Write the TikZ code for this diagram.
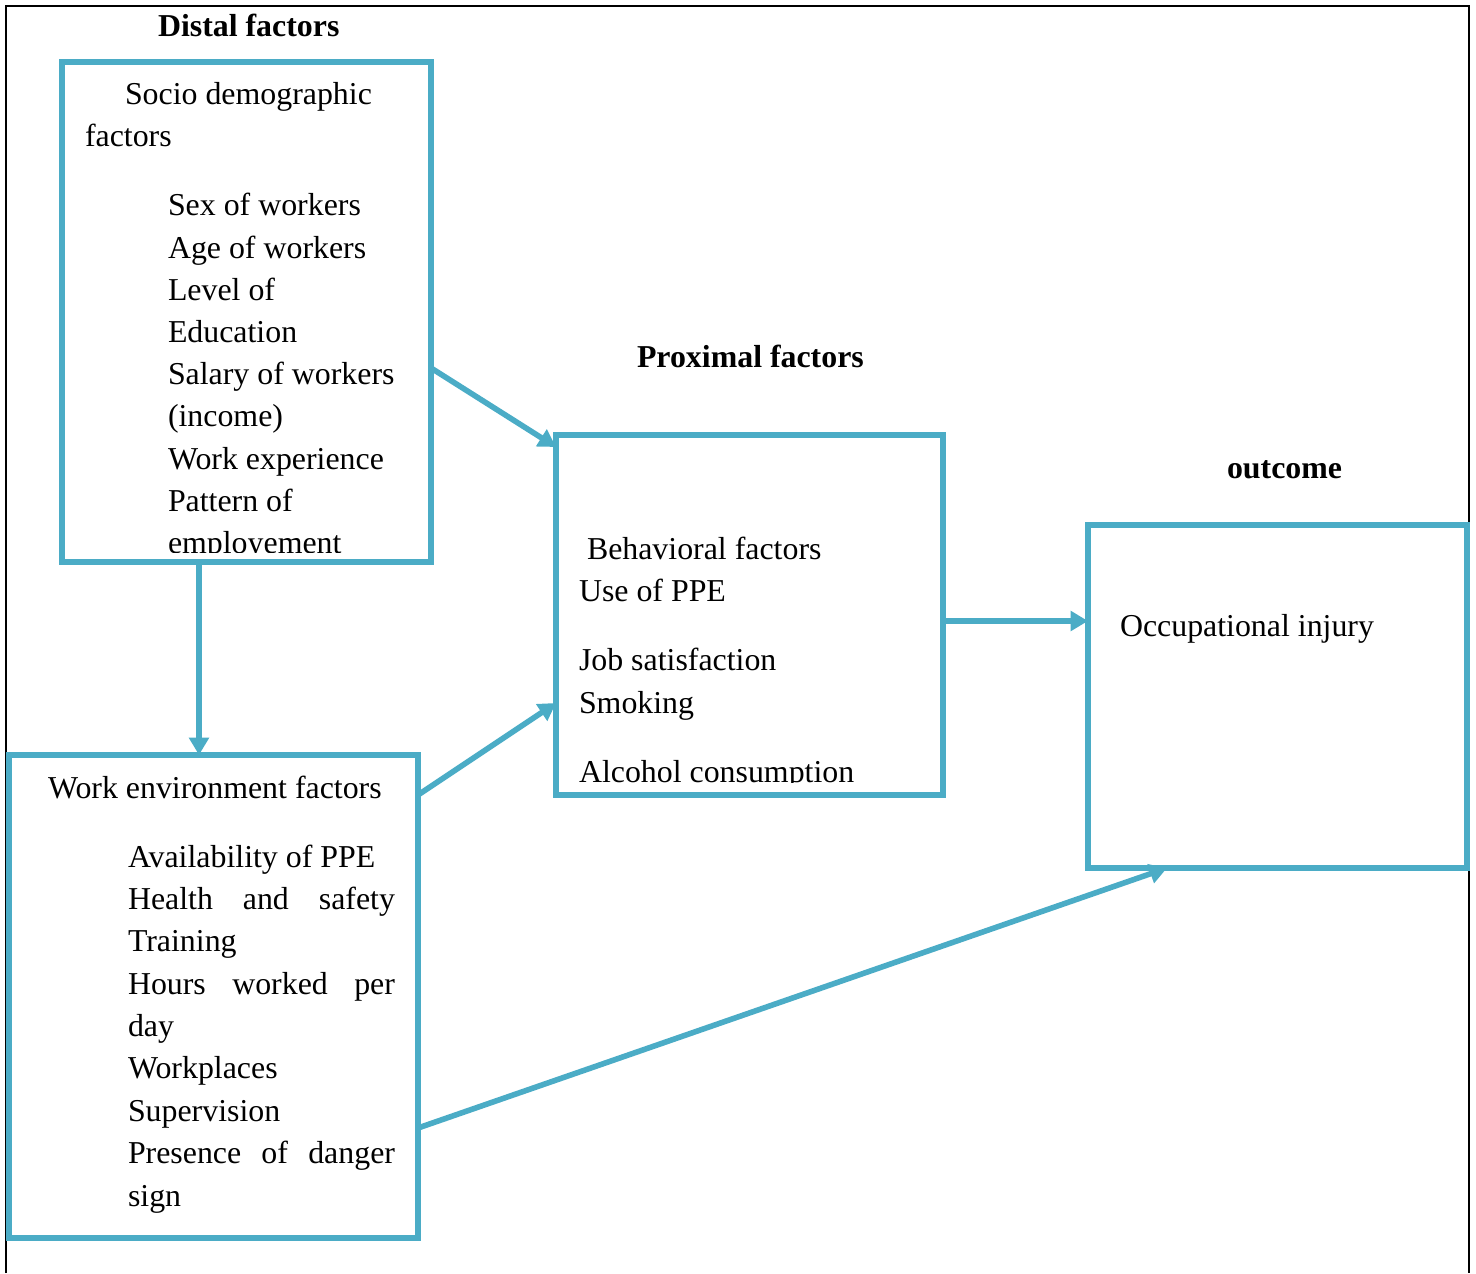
\documentclass[tikz,border=0pt]{standalone}
\usepackage{fontspec}
\setmainfont{Liberation Serif}
\usetikzlibrary{arrows.meta,fit}
\definecolor{acc}{HTML}{4BACC6}
\begin{document}
\begin{tikzpicture}[x=0.75pt,y=-0.75pt,
 box/.style={draw=acc,line width=4.7pt,inner sep=0pt,outer sep=0pt,fill=white},
 arr/.style={draw=acc,line width=4.2pt,-{Triangle[length=13pt,width=14.5pt]}},
 txt/.style={anchor=base west,inner sep=0pt,outer sep=0pt,font=\fontsize{23.9}{30}\selectfont},
 ttl/.style={anchor=base west,inner sep=0pt,outer sep=0pt,font=\fontsize{23.9}{30}\selectfont\bfseries}]
\useasboundingbox (0,0) rectangle (1476,1273);
% outer frame
\draw[black,line width=1.6pt] (6,1273) -- (6,6) -- (1469,6) -- (1469,1273);
% boxes
\node[box,fit={(62,62) (431,562)}] (A) {};
\node[box,fit={(556,435) (943,795)}] (B) {};
\node[box,fit={(1088,525) (1467,868)}] (C) {};
\node[box,fit={(9,755) (418,1238)}] (D) {};
% titles
\node[ttl] (tA) at (158,37) {Distal factors};
\node[ttl] (tB) at (637,367) {Proximal factors};
\node[ttl] (tC) at (1227,478) {outcome};
% box A text
\node[txt] (a0) at (125,105) {Socio demographic};
\node[txt] (a1) at (85,147) {factors};
\node[txt] (a2) at (168,216) {Sex of workers};
\node[txt] (a3) at (168,258) {Age of workers};
\node[txt] (a4) at (168,300) {Level of};
\node[txt] (a5) at (168,342) {Education};
\node[txt] (a6) at (168,384) {Salary of workers};
\node[txt] (a7) at (168,426) {(income)};
\node[txt] (a8) at (168,469) {Work experience};
\node[txt] (a9) at (168,511) {Pattern of};
\begin{scope}
\clip (150,515) rectangle (420,552);
\node[txt] (a10) at (168,553) {employement};
\end{scope}
% box B text
\node[txt] (b0) at (587,559) {Behavioral factors};
\node[txt] (b1) at (579,601) {Use of PPE};
\node[txt] (b2) at (579,670) {Job satisfaction};
\node[txt] (b3) at (579,713) {Smoking};
\begin{scope}
\clip (565,745) rectangle (930,782);
\node[txt] (b4) at (579,782) {Alcohol consumption};
\end{scope}
% box C text
\node[txt] (c0) at (1120,636) {Occupational injury};
% box D text
\node[txt] (d0) at (48,798) {Work environment factors};
\node[txt] (d1) at (128,867) {Availability of PPE};
\node[txt] (d2) at (128,909) {\hbox to 200.25pt{Health\hfill and\hfill safety}};
\node[txt] (d3) at (128,951) {Training};
\node[txt] (d4) at (128,994) {\hbox to 200.25pt{Hours\hfill worked\hfill per}};
\node[txt] (d5) at (128,1036) {day};
\node[txt] (d6) at (128,1078) {Workplaces};
\node[txt] (d7) at (128,1121) {Supervision};
\node[txt] (d8) at (128,1163) {\hbox to 200.25pt{Presence\hfill of\hfill danger}};
\node[txt] (d9) at (128,1206) {sign};
% arrows
\draw[arr] (A.east |- 0,368) -- (B.west |- 0,447);
\draw[arr] (A.south -| 199,0) -- (D.north -| 199,0);
\draw[arr] (D.east |- 0,795) -- (B.west |- 0,703);
\draw[arr] (B.east |- 0,621) -- (C.west |- 0,621);
\draw[arr] (D.east |- 0,1128) -- (C.south -| 1167,0);
\end{tikzpicture}
\end{document}
